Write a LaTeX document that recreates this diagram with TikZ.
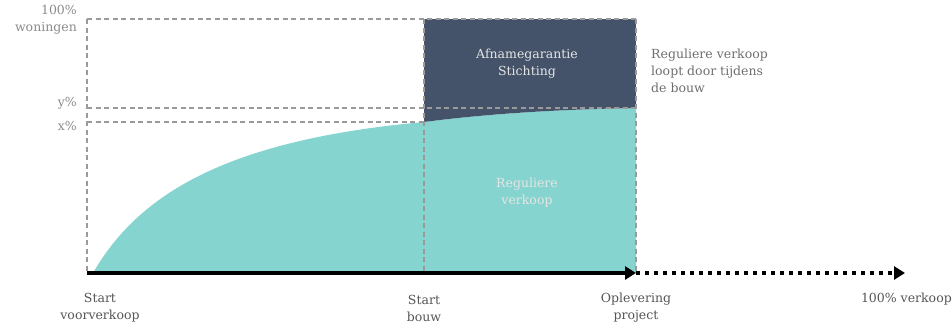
\documentclass[tikz,border=0pt]{standalone}
\usepackage{fontspec}
\setmainfont{DejaVu Serif}
\usetikzlibrary{arrows.meta}
\definecolor{navy}{HTML}{44536A}
\definecolor{teal}{HTML}{85D4CF}
\definecolor{dashgray}{HTML}{9A9A9A}
\definecolor{lbl}{HTML}{8A8A8A}
\definecolor{dlbl}{HTML}{555555}
\begin{document}
\begin{tikzpicture}[x=1pt,y=-1pt,
  guide/.style={draw=dashgray,line width=1.1pt,dash pattern=on 5pt off 3.5pt},
  axislabel/.style={font=\fontsize{12.5}{17}\selectfont,text=dlbl,align=center,inner sep=0pt},
  sidelabel/.style={font=\fontsize{12.5}{17}\selectfont,text=lbl,inner sep=0pt},
  inlabel/.style={font=\fontsize{12.5}{17}\selectfont,text=white!90!black,align=center,inner sep=0pt}]
\useasboundingbox (0,0) rectangle (952,327);
% named coordinates
\coordinate (o) at (87,273);
\coordinate (c0) at (93,273);
\coordinate (sb) at (424,273);
\coordinate (op) at (636,273);
\coordinate (end) at (905,273);
\coordinate (xp) at (424,122);
\coordinate (yp) at (636,108);
% teal area
\fill[teal] (c0) .. controls (138,195) and (225,140) .. (xp)
  .. controls (500,112) and (580,109) .. (yp) -- (op) -- cycle;
% navy block
\fill[navy] (424,19) rectangle (636,108) ;
\fill[navy] (xp) .. controls (500,112) and (580,109) .. (yp) -- (636,100) -- (424,100) -- cycle;
% guides
\draw[guide] (87,19) -- (636,19);
\draw[guide] (87,108) -- (636,108);
\draw[guide] (87,122) -- (xp);
\draw[guide] (87,19) -- (o);
\draw[guide] (424,19) -- (sb);
\draw[guide] (636,19) -- (op);
% axes
\draw[line width=4pt,-{Triangle[length=11pt,width=13pt]}] (o) -- (op);
\draw[line width=4pt,dash pattern=on 4pt off 5pt,-{Triangle[length=11pt,width=13pt]}] (op) -- (end);
% labels
\node[sidelabel,anchor=east,align=right] (l100) at (77,20) {100\%\\woningen};
\node[sidelabel,anchor=east] (ly) at (77,103) {y\%};
\node[sidelabel,anchor=east] (lx) at (77,126) {x\%};
\node[axislabel] (lsv) at (100,308) {Start\\voorverkoop};
\node[axislabel] (lsb) at (424,308) {Start\\bouw};
\node[axislabel] (lop) at (636,308) {Oplevering\\project};
\node[sidelabel,text=dlbl,anchor=east] (l100v) at (952,299) {100\% verkoop};
\node[sidelabel,text=dlbl!85,anchor=west,align=left] (lreg) at (651,71) {Reguliere verkoop\\loopt door tijdens\\de bouw};
\node[inlabel] (lafn) at (527,64) {Afnamegarantie\\Stichting};
\node[inlabel] (lrv) at (527,193) {Reguliere\\verkoop};
\end{tikzpicture}
\end{document}
